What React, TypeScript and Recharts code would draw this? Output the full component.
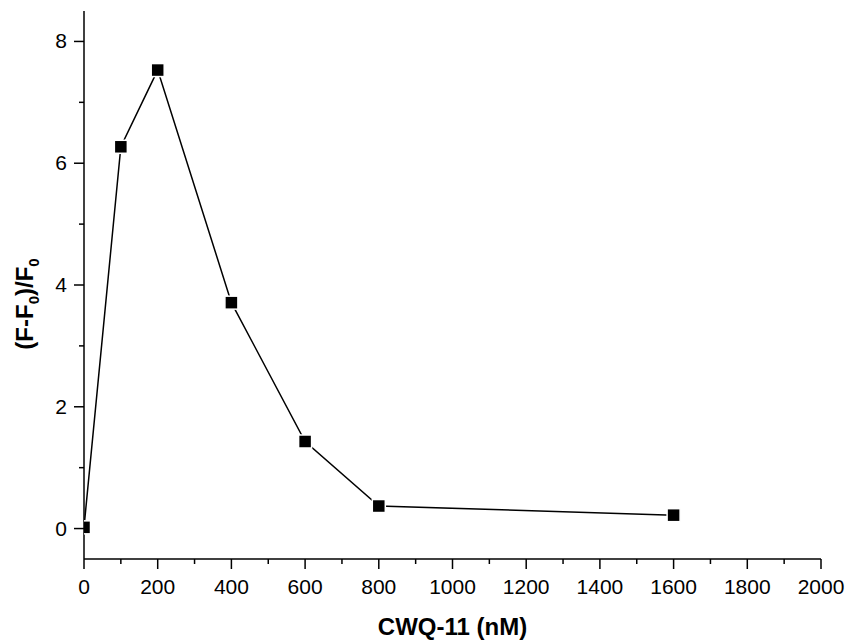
import React from "react";
import { LineChart, Line, XAxis, YAxis, Label } from "recharts";

// CWQ-11 concentration (nM) vs. fluorescence enhancement
const concentrations = [0, 100, 200, 400, 600, 800, 1600];
const ratio = [0.02, 6.27, 7.53, 3.71, 1.43, 0.37, 0.22];

const xTicks = [0, 100, 200, 300, 400, 500, 600, 700, 800, 900, 1000, 1100, 1200, 1300, 1400, 1500, 1600, 1700, 1800, 1900, 2000];
const yTicks = [0, 1, 2, 3, 4, 5, 6, 7, 8];

const data = concentrations.map((c, i) => ({ conc: c, ratio: ratio[i] }));

const FONT = "Arial, 'Liberation Sans', Helvetica, sans-serif";

const XTick = (props: any) => {
  const { x, y, payload } = props;
  const major = payload.value % 200 === 0;
  return (
    <g>
      <line x1={x} y1={y} x2={x} y2={y + (major ? 10 : 5)} stroke="#000" strokeWidth={1.5} />
      {major && (
        <text x={x} y={y + 35} textAnchor="middle" fontSize={21} fontFamily={FONT} fill="#000">
          {payload.value}
        </text>
      )}
    </g>
  );
};

const YTick = (props: any) => {
  const { x, y, payload } = props;
  const major = payload.value % 2 === 0;
  return (
    <g>
      <line x1={x} y1={y} x2={x - (major ? 10 : 5)} y2={y} stroke="#000" strokeWidth={1.5} />
      {major && (
        <text x={x - 17} y={y + 7} textAnchor="end" fontSize={21} fontFamily={FONT} fill="#000">
          {payload.value}
        </text>
      )}
    </g>
  );
};

const SquareDot = (props: any) => {
  const { cx, cy, index } = props;
  if (cx == null || cy == null) return null;
  return <rect key={index} x={cx - 6.5} y={cy - 6.5} width={13} height={13} fill="#000" stroke="#fff" strokeWidth={1.5} />;
};

export default function App() {
  return (
    <div style={{ position: "absolute", left: 0, top: 0, width: 848, height: 641, background: "#fff" }}>
      <LineChart width={848} height={641} data={data} margin={{ top: 11, right: 27, bottom: 0, left: 0 }}>
        <XAxis
          dataKey="conc"
          type="number"
          domain={[0, 2000]}
          ticks={xTicks}
          interval={0}
          allowDataOverflow
          height={82}
          tickSize={0}
          tickMargin={0}
          tickLine={false}
          axisLine={{ stroke: "#000", strokeWidth: 1.5 }}
          tick={<XTick />}
        >
          <Label
            content={(p: any) => {
              const vb = p.viewBox;
              return (
                <text x={vb.x + vb.width / 2} y={vb.y + 76} textAnchor="middle" fontSize={24} fontWeight="bold" fontFamily={FONT} fill="#000">
                  CWQ-11 (nM)
                </text>
              );
            }}
          />
        </XAxis>
        <YAxis
          type="number"
          domain={[-0.5, 8.5]}
          ticks={yTicks}
          interval={0}
          width={84}
          tickSize={0}
          tickMargin={0}
          tickLine={false}
          axisLine={{ stroke: "#000", strokeWidth: 1.5 }}
          tick={<YTick />}
        >
          <Label
            content={(p: any) => {
              const vb = p.viewBox;
              const cx = vb.x + 33;
              const cy = vb.y + 293;
              return (
                <text x={cx} y={cy} transform={`rotate(-90, ${cx}, ${cy})`} textAnchor="middle" fontSize={24} fontWeight="bold" fontFamily={FONT} fill="#000">
                  (F-F
                  <tspan fontSize={15} dy={6}>0</tspan>
                  <tspan dy={-6}>)/F</tspan>
                  <tspan fontSize={15} dy={6}>0</tspan>
                </text>
              );
            }}
          />
        </YAxis>
        <Line
          type="linear"
          dataKey="ratio"
          stroke="#000"
          strokeWidth={1.5}
          dot={<SquareDot />}
          activeDot={false}
          isAnimationActive={false}
        />
      </LineChart>
    </div>
  );
}
